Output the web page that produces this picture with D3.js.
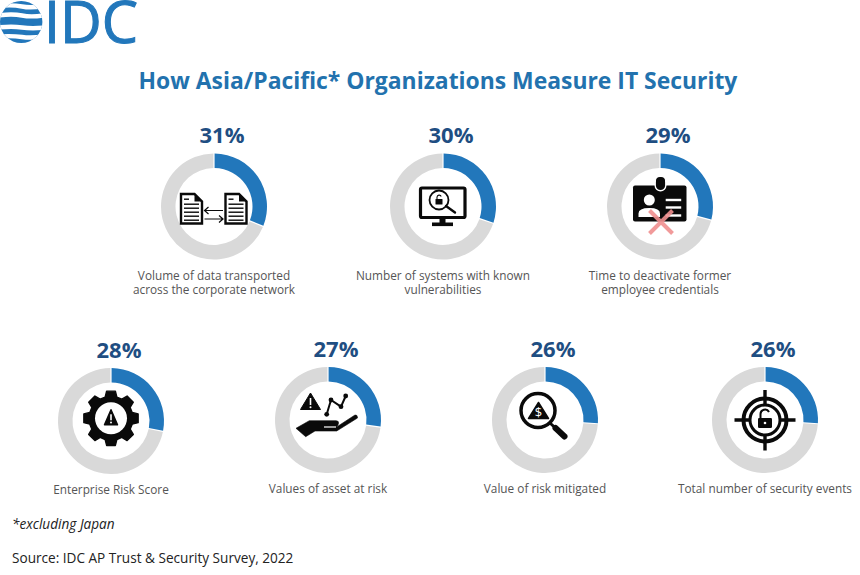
<!DOCTYPE html>
<html><head><meta charset="utf-8">
<style>html,body{margin:0;padding:0;background:#fff;overflow:hidden}text{font-family:"Open Sans",sans-serif}</style>
<script src="https://cdn.jsdelivr.net/npm/d3@7"></script>
</head><body><div id="chart"></div>
<script>
const titleText = "How Asia/Pacific* Organizations Measure IT Security";
const logoText = "IDC";
const footnote = "*excluding Japan";
const sourceText = "Source: IDC AP Trust & Security Survey, 2022";
const values = [31, 30, 29, 28, 27, 26, 26];
const labels = [
  ["Volume of data transported", "across the corporate network"],
  ["Number of systems with known", "vulnerabilities"],
  ["Time to deactivate former", "employee credentials"],
  ["Enterprise Risk Score"],
  ["Values of asset at risk"],
  ["Value of risk mitigated"],
  ["Total number of security events"]
];
const icons = ["docs", "monitor", "badge", "gear", "hand", "magnifier", "target"];

const W = 860, H = 575;
const centers = [[214,206.5],[443,206.5],[660,206.5],[111,421],[328,420],[545,420],[765,420]];
const BLUE = "#2277bb", GREY = "#d9d9d9", DARK = "#1f4e82", TXT = "#555555", INK = "#0a0a0a";

const svg = d3.select("#chart").append("svg").attr("width", W).attr("height", H).attr("viewBox", `0 0 ${W} ${H}`);
svg.append("rect").attr("width", W).attr("height", H).attr("fill", "#fff");

// logo
const logo = svg.append("g");
svg.append("clipPath").attr("id","globe").append("ellipse").attr("cx",21.2).attr("cy",22).attr("rx",21.2).attr("ry",21);
const gl = logo.append("g").attr("clip-path","url(#globe)");
gl.append("rect").attr("x",0).attr("y",0).attr("width",43).attr("height",44).attr("fill",BLUE);
["M-2 6Q12 4.5 22 6.5T46 5.5","M-2 15.5Q12 13.5 22 15.5T46 15","M-2 27.5Q12 26 22 27.5T46 27.5","M-2 36.5Q12 35.5 22 37T46 36"].forEach(d=>
  gl.append("path").attr("d",d).attr("fill","none").attr("stroke","#fff").attr("stroke-width",4.4));
logo.append("text").text(logoText).attr("x",44).attr("y",43).attr("font-size",58).attr("fill",BLUE)
  .attr("stroke",BLUE).attr("stroke-width",1.1)
  .attr("textLength",94).attr("lengthAdjust","spacingAndGlyphs");

svg.append("text").text(titleText).attr("x",438).attr("y",89).attr("text-anchor","middle")
  .attr("font-size",22.9).attr("font-weight",700).attr("fill","#2272ae");

const pie = d3.pie().sort(null).padAngle(0.018).startAngle(0).endAngle(2*Math.PI);
const arc = d3.arc().innerRadius(38.5).outerRadius(53);

const iconFns = {
  docs(g){
    const doc=(x)=>{
      const d=g.append("g").attr("transform",`translate(${x},0)`);
      d.append("path").attr("d","M-10.5 -12.5H3L10.5 -5V17H-10.5Z").attr("fill","#fff").attr("stroke",INK).attr("stroke-width",2.4);
      d.append("path").attr("d","M3 -12.5V-5H10.5Z").attr("fill",INK);
      [-8,-3,1,5,9,13].forEach((y,i)=>
        d.append("rect").attr("x",-7.5).attr("y",y).attr("width",i==0?5:15).attr("height",1.4).attr("fill",INK));
    };
    doc(-22.5); doc(22);
    g.append("path").attr("d","M9 4H-9.5M-5.5 0.5L-9.5 4L-5.5 7.5M-9.5 12.5H9M5 9L9 12.5L5 16").attr("fill","none").attr("stroke",INK).attr("stroke-width",1.2);
  },
  monitor(g){
    g.append("rect").attr("x",-22.5).attr("y",-18.5).attr("width",44.5).attr("height",29.5).attr("rx",1.5).attr("fill","#fff").attr("stroke",INK).attr("stroke-width",3.2);
    g.append("rect").attr("x",-3.5).attr("y",12).attr("width",6).attr("height",5).attr("fill",INK);
    g.append("rect").attr("x",-11).attr("y",16).attr("width",21).attr("height",3.6).attr("fill",INK);
    g.append("circle").attr("cx",-4).attr("cy",-6.5).attr("r",9.5).attr("fill","#fff").attr("stroke",INK).attr("stroke-width",1.8);
    g.append("path").attr("d","M3 -0.5L12 6").attr("stroke",INK).attr("stroke-width",2.4).attr("stroke-linecap","round");
    g.append("rect").attr("x",-7.5).attr("y",-7.5).attr("width",7).attr("height",5.5).attr("rx",.6).attr("fill",INK);
    g.append("path").attr("d","M-6 -7.5V-9.5A2.2 2.2 0 0 1 -1.8 -10").attr("fill","none").attr("stroke",INK).attr("stroke-width",1.1);
  },
  badge(g){
    g.append("rect").attr("x",-27).attr("y",-21).attr("width",53.5).attr("height",36).attr("rx",2).attr("fill",INK);
    g.append("rect").attr("x",-4.8).attr("y",-29.8).attr("width",10.6).attr("height",14).attr("rx",5.3).attr("fill",INK).attr("stroke","#fff").attr("stroke-width",1.4);
    g.append("rect").attr("x",-4).attr("y",-29.5).attr("width",9).attr("height",8).attr("rx",4).attr("fill",INK);
    g.append("circle").attr("cx",-10.7).attr("cy",-6.5).attr("r",5.5).attr("fill","#fff");
    g.append("path").attr("d","M-21.5 10.5V7Q-21.5 1.5 -10.7 1.5T0 7V10.5Z").attr("fill","#fff");
    [-6.5,1,9].forEach(y=>g.append("rect").attr("x",5.7).attr("y",y-1.2).attr("width",15.5).attr("height",2.4).attr("fill","#fff"));
    g.append("path").attr("d","M-10.5 4L12.5 27M12.5 4L-10.5 27").attr("stroke","#f08f8f").attr("stroke-opacity",.9).attr("stroke-width",4).attr("fill","none");
  },
  gear(g){
    g.attr("transform","translate(0,-2.7)");
    const n=8, pts=[];
    for(let i=0;i<n;i++){
      const a=i*2*Math.PI/n-Math.PI/2, s=0.2;
      [[a-s*1.35,22],[a-s*.8,27.5],[a+s*.8,27.5],[a+s*1.35,22]].forEach(([t,r])=>pts.push([r*Math.cos(t),r*Math.sin(t)]));
    }
    g.append("path").attr("d",d3.line().curve(d3.curveLinearClosed)(pts)).attr("fill",INK).attr("stroke",INK).attr("stroke-width",1.4).attr("stroke-linejoin","round");
    g.append("circle").attr("r",16).attr("fill","#fff");
    g.append("path").attr("d","M0 -8.5L6.5 6.5H-6.5Z").attr("fill",INK).attr("stroke",INK).attr("stroke-width",1.5).attr("stroke-linejoin","round");
    g.append("rect").attr("x",-.8).attr("y",-4).attr("width",1.6).attr("height",6).attr("fill","#fff");
    g.append("circle").attr("cy",4.3).attr("r",1).attr("fill","#fff");
  },
  hand(g){
    g.append("path").attr("d","M-17.5 -27L-7.5 -10.5H-27.5Z").attr("fill",INK).attr("stroke",INK).attr("stroke-width",1).attr("stroke-linejoin","round");
    g.append("rect").attr("x",-18.3).attr("y",-22).attr("width",1.6).attr("height",7).attr("fill","#fff");
    g.append("circle").attr("cx",-17.5).attr("cy",-12.8).attr("r",1).attr("fill","#fff");
    const nodes=[[-1.3,-5.7],[3,-20],[13,-13.3],[17.7,-24]];
    g.append("path").attr("d",d3.line()(nodes)).attr("fill","none").attr("stroke",INK).attr("stroke-width",2);
    g.selectAll("circle.n").data(nodes).join("circle").attr("class","n").attr("cx",d=>d[0]).attr("cy",d=>d[1]).attr("r",2.4).attr("fill",INK);
    g.append("path").attr("d","M-32 8.3L-18.7 .7H8Q11 .7 10.5 3.5T8 6.7H9L27 -5Q29.5 -5.5 29.5 -2L8.7 11H-13L-22.3 16.7Z").attr("fill",INK).attr("stroke",INK).attr("stroke-width",.6).attr("stroke-linejoin","round");
    g.append("path").attr("d","M-4 7H8").attr("stroke","#fff").attr("stroke-width",1.2);
  },
  magnifier(g){
    g.append("path").attr("d","M5 3L21 18").attr("stroke",INK).attr("stroke-width",3);
    g.append("path").attr("d","M10.5 8L19.5 16.5").attr("stroke",INK).attr("stroke-width",6).attr("stroke-linecap","round");
    g.append("circle").attr("cx",-7).attr("cy",-9.5).attr("r",17).attr("fill","#fff").attr("stroke",INK).attr("stroke-width",3.5);
    g.append("path").attr("d","M-6.5 -17.5L3.5 -1.5H-16.5Z").attr("fill",INK).attr("stroke",INK).attr("stroke-linejoin","round").attr("stroke-width",1.5);
    g.append("text").text("$").attr("x",-6.5).attr("y",-3).attr("text-anchor","middle").attr("font-size",13).attr("fill","#fff");
  },
  target(g){
    g.append("g").selectAll("circle").data([[21.5,4],[15,3]]).join("circle").attr("r",d=>d[0]).attr("fill","none").attr("stroke",INK).attr("stroke-width",d=>d[1]);
    g.append("path").attr("d","M-30.5 0H-15M15 0H30.5M0 -30V-15M0 15V30.5").attr("stroke",INK).attr("stroke-width",3.4);
    g.append("rect").attr("x",-7).attr("y",-2).attr("width",14).attr("height",10).attr("rx",1.2).attr("fill",INK);
    g.append("path").attr("d","M-4.5 -2V-6A4.5 4.5 0 0 1 4 -8").attr("fill","none").attr("stroke",INK).attr("stroke-width",2);
    g.append("circle").attr("cy",3).attr("r",1.3).attr("fill","#fff");
  }
};

values.forEach((v,i)=>{
  const [cx,cy]=centers[i];
  const g=svg.append("g").attr("transform",`translate(${cx},${cy})`);
  g.selectAll("path.seg").data(pie([v,100-v])).join("path").attr("class","seg")
    .attr("d",arc).attr("fill",(d,j)=>j===0?BLUE:GREY);
  iconFns[icons[i]](g.append("g").attr("class","icon"));
  svg.append("text").text(v+"%").attr("x",cx+8).attr("y",cy-63.5)
    .attr("text-anchor","middle").attr("font-size",22).attr("font-weight",700).attr("fill",DARK);
  const t=svg.append("text").attr("text-anchor","middle").attr("font-size",11.8).attr("fill",TXT);
  labels[i].forEach((l,k)=>t.append("tspan").attr("x",cx).attr("y",(i<3?280:(i===3?494:493))+k*14.3).text(l));
});

svg.append("text").text(footnote).attr("x",12).attr("y",529).attr("font-size",13.6).attr("font-style","italic").attr("fill","#222");
svg.append("text").text(sourceText).attr("x",12).attr("y",563).attr("font-size",13.6).attr("fill","#222");
</script></body></html>
